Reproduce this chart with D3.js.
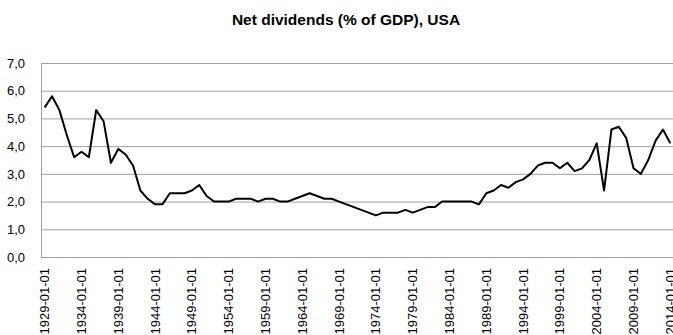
<!DOCTYPE html>
<html>
<head>
<meta charset="utf-8">
<script src="https://cdn.jsdelivr.net/npm/d3@7"></script>
<style>
  html, body { margin: 0; padding: 0; background: #fff; }
  svg { display: block; }
</style>
</head>
<body>
<svg id="chart" width="673" height="335"></svg>
<script>
// Net dividends as a share of GDP, USA, annual observations
const years = [
  1929, 1930, 1931, 1932, 1933, 1934, 1935, 1936, 1937, 1938,
  1939, 1940, 1941, 1942, 1943, 1944, 1945, 1946, 1947, 1948,
  1949, 1950, 1951, 1952, 1953, 1954, 1955, 1956, 1957, 1958,
  1959, 1960, 1961, 1962, 1963, 1964, 1965, 1966, 1967, 1968,
  1969, 1970, 1971, 1972, 1973, 1974, 1975, 1976, 1977, 1978,
  1979, 1980, 1981, 1982, 1983, 1984, 1985, 1986, 1987, 1988,
  1989, 1990, 1991, 1992, 1993, 1994, 1995, 1996, 1997, 1998,
  1999, 2000, 2001, 2002, 2003, 2004, 2005, 2006, 2007, 2008,
  2009, 2010, 2011, 2012, 2013, 2014
];
const dates = years.map(y => y + "-01-01");

const dividends = [
  5.4, 5.8, 5.3, 4.4, 3.6, 3.8, 3.6, 5.3, 4.9, 3.4,
  3.9, 3.7, 3.3, 2.4, 2.1, 1.9, 1.9, 2.3, 2.3, 2.3,
  2.4, 2.6, 2.2, 2.0, 2.0, 2.0, 2.1, 2.1, 2.1, 2.0,
  2.1, 2.1, 2.0, 2.0, 2.1, 2.2, 2.3, 2.2, 2.1, 2.1,
  2.0, 1.9, 1.8, 1.7, 1.6, 1.5, 1.6, 1.6, 1.6, 1.7,
  1.6, 1.7, 1.8, 1.8, 2.0, 2.0, 2.0, 2.0, 2.0, 1.9,
  2.3, 2.4, 2.6, 2.5, 2.7, 2.8, 3.0, 3.3, 3.4, 3.4,
  3.2, 3.4, 3.1, 3.2, 3.5, 4.1, 2.4, 4.6, 4.7, 4.3,
  3.2, 3.0, 3.5, 4.2, 4.6, 4.1
];

const yTicks = [0, 1, 2, 3, 4, 5, 6, 7];
const labelEvery = 5;
const title = "Net dividends (% of GDP), USA";

const svg = d3.select("#chart");
const plot = { left: 41, right: 674, top: 63, bottom: 257 };
const gridColor = "#a0a0a0";
const font = "'Liberation Sans', Arial, sans-serif";

const x = d3.scaleBand()
  .domain(dates)
  .range([plot.left, plot.right])
  .padding(0);
const xc = d => x(d) + x.bandwidth() / 2;

const y = d3.scaleLinear()
  .domain([0, 7])
  .range([plot.bottom, plot.top]);

// horizontal gridlines and value labels
const yAxis = d3.axisLeft(y)
  .tickValues(yTicks)
  .tickSize(-(plot.right - plot.left))
  .tickPadding(16)
  .tickFormat(d => d3.format(".1f")(d).replace(".", ","));

const gy = svg.append("g")
  .attr("transform", `translate(${plot.left},0)`)
  .call(yAxis);
gy.select(".domain").attr("stroke", gridColor);
gy.selectAll(".tick line").attr("stroke", gridColor).attr("stroke-width", 1);
gy.selectAll(".tick text")
  .attr("fill", "#000")
  .style("font-family", font)
  .style("font-size", "13px");

// category axis along the bottom, labelled every fifth year
const xAxis = d3.axisBottom(x)
  .tickValues(dates.filter((d, i) => i % labelEvery === 0))
  .tickSize(0)
  .tickPadding(0);

const gx = svg.append("g")
  .attr("transform", `translate(0,${plot.bottom})`)
  .call(xAxis);
gx.select(".domain").attr("stroke", gridColor);
gx.selectAll(".tick text")
  .attr("fill", "#000")
  .style("font-family", font)
  .style("font-size", "13px")
  .attr("text-anchor", "end")
  .attr("dy", "0.35em")
  .attr("x", -11)
  .attr("y", 0)
  .attr("transform", "rotate(-90)");

// the series line
const line = d3.line()
  .x((d, i) => xc(dates[i]))
  .y(d => y(d));

svg.append("path")
  .datum(dividends)
  .attr("fill", "none")
  .attr("stroke", "#000")
  .attr("stroke-width", 2)
  .attr("stroke-linejoin", "round")
  .attr("d", line);

// chart title
svg.append("text")
  .attr("x", 346)
  .attr("y", 24.5)
  .attr("text-anchor", "middle")
  .style("font-family", font)
  .style("font-weight", "bold")
  .style("font-size", "15.5px")
  .attr("fill", "#000")
  .text(title);
</script>
</body>
</html>
